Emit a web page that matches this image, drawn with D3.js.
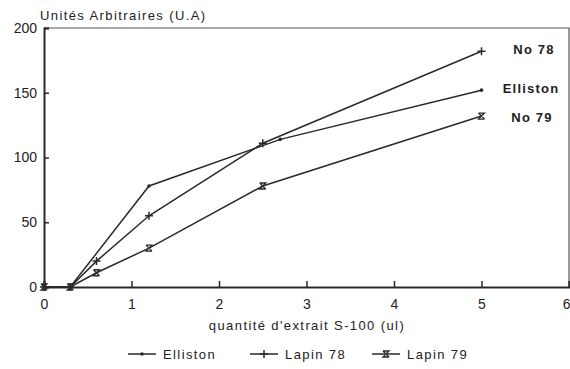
<!DOCTYPE html>
<html>
<head>
<meta charset="utf-8">
<script src="https://cdn.jsdelivr.net/npm/d3@7"></script>
<style>
  body { margin: 0; background: #fff; }
  text { font-family: "Liberation Sans", Arial, sans-serif; fill: #222; }
</style>
</head>
<body>
<svg id="chart" width="570" height="369"></svg>
<script>
// data
const ellistonX = [0, 0.3, 1.2, 2.7, 5];
const ellistonY = [0, 0, 78, 114, 152];
const lapin78X = [0, 0.3, 0.6, 1.2, 2.5, 5];
const lapin78Y = [0, 0, 20, 55, 111, 182];
const lapin79X = [0, 0.3, 0.6, 1.2, 2.5, 5];
const lapin79Y = [0, 0, 11, 30, 78, 132];
const xTicks = [0, 1, 2, 3, 4, 5, 6];
const yTicks = [0, 50, 100, 150, 200];
const endLabels = ["No 78", "Elliston", "No 79"];
const legendLabels = ["Elliston", "Lapin 78", "Lapin 79"];

const svg = d3.select("#chart");
const margin = { left: 44, right: 0, top: 28, bottom: 82 };
const W = 570, H = 369;

const x = d3.scaleLinear().domain([0, 6]).range([margin.left, W - 1]);
const y = d3.scaleLinear().domain([0, 200]).range([H - margin.bottom, margin.top]);

const ink = "#2a2a2a";

// frame (top + right, thinner)
svg.append("path")
  .attr("d", `M${x(0)},${y(200)}H${x(6)}V${y(0)}`)
  .attr("fill", "none")
  .attr("stroke", "#555")
  .attr("stroke-width", 1.2);

// axes
const xAxis = svg.append("g")
  .attr("transform", `translate(0,${y(0)})`)
  .call(d3.axisBottom(x).tickValues(xTicks).tickSize(-6).tickPadding(12).tickFormat(d3.format("d")));
const yAxis = svg.append("g")
  .attr("transform", `translate(${x(0)},0)`)
  .call(d3.axisLeft(y).tickValues(yTicks).tickSize(-5).tickPadding(7).tickFormat(d3.format("d")));

[xAxis, yAxis].forEach(a => {
  a.select(".domain").attr("stroke", ink).attr("stroke-width", 2);
  a.selectAll(".tick line").attr("stroke", ink).attr("stroke-width", 1.5);
  a.selectAll(".tick text")
    .attr("font-family", "'Liberation Sans', Arial, sans-serif")
    .attr("font-size", 14)
    .attr("fill", "#222");
});
xAxis.selectAll(".tick text").attr("dy", "0.71em");
// last tick label sits at the window edge, as in the reference
xAxis.selectAll(".tick text").filter(d => d === 6).attr("text-anchor", "end").attr("dx", 1);

// axis titles
svg.append("text")
  .attr("x", 40).attr("y", 20)
  .attr("font-size", 13)
  .attr("letter-spacing", 1.4)
  .text("Unités Arbitraires (U.A)");

svg.append("text")
  .attr("x", 307).attr("y", 330)
  .attr("text-anchor", "middle")
  .attr("font-size", 13)
  .attr("letter-spacing", 1.4)
  .text("quantité d'extrait S-100 (ul)");

// markers
function drawMarker(g, kind, cx, cy) {
  if (kind === "dot") {
    g.append("circle").attr("cx", cx).attr("cy", cy).attr("r", 1.8).attr("fill", ink);
  } else if (kind === "plus") {
    g.append("path")
      .attr("d", `M${cx - 4},${cy}H${cx + 4}M${cx},${cy - 4}V${cy + 4}`)
      .attr("stroke", ink).attr("stroke-width", 1.5);
  } else {
    g.append("path")
      .attr("d", `M${cx - 3},${cy - 3}H${cx + 3}L${cx - 3},${cy + 3}H${cx + 3}M${cx - 3},${cy - 3}L${cx + 3},${cy + 3}`)
      .attr("fill", "none").attr("stroke", ink).attr("stroke-width", 1.3);
  }
}

const series = [
  { xs: ellistonX, ys: ellistonY, kind: "dot" },
  { xs: lapin78X, ys: lapin78Y, kind: "plus" },
  { xs: lapin79X, ys: lapin79Y, kind: "hour" }
];

const line = d3.line().x(d => x(d[0])).y(d => y(d[1]));

series.forEach(s => {
  const pts = s.xs.map((v, i) => [v, s.ys[i]]);
  const g = svg.append("g");
  g.append("path")
    .datum(pts)
    .attr("fill", "none")
    .attr("stroke", ink)
    .attr("stroke-width", 1.5)
    .attr("d", line);
  pts.forEach(p => drawMarker(g, s.kind, x(p[0]), y(p[1])));
});

// end-of-line labels
const endY = [lapin78Y[lapin78Y.length - 1], ellistonY[ellistonY.length - 1], lapin79Y[lapin79Y.length - 1]];
const endX = [534, 531, 532];
const endDy = [-2, -2, 1];
endLabels.forEach((t, i) => {
  svg.append("text")
    .attr("x", endX[i])
    .attr("y", y(endY[i]) + endDy[i])
    .attr("dy", "0.35em")
    .attr("text-anchor", "middle")
    .attr("font-size", 13)
    .attr("font-weight", "bold")
    .attr("letter-spacing", 1.2)
    .text(t);
});

// legend
const legendX = [128, 250, 372];
const legendKinds = ["dot", "plus", "hour"];
const ly = 354;
legendLabels.forEach((t, i) => {
  const g = svg.append("g");
  const lx = legendX[i];
  g.append("line")
    .attr("x1", lx).attr("x2", lx + 28)
    .attr("y1", ly).attr("y2", ly)
    .attr("stroke", ink).attr("stroke-width", 1.5);
  drawMarker(g, legendKinds[i], lx + 14, ly);
  g.append("text")
    .attr("x", lx + 35).attr("y", ly)
    .attr("dy", "0.35em")
    .attr("font-size", 13)
    .attr("letter-spacing", 1.4)
    .text(t);
});
</script>
</body>
</html>
